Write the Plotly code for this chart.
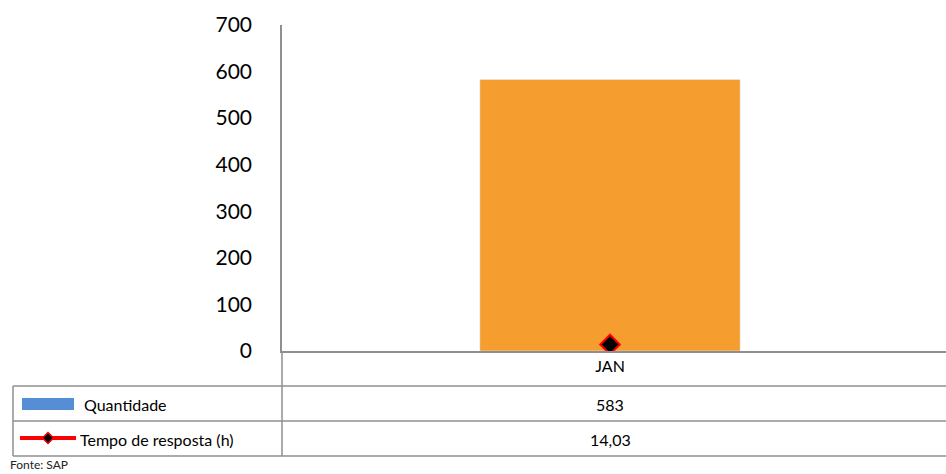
import plotly.graph_objects as go

categories = ["JAN"]
quantidade = [583]
tempo_resposta = [14.03]
y_ticks = [0, 100, 200, 300, 400, 500, 600, 700]
series_names = ["Quantidade", "Tempo de resposta (h)"]
source_text = "Fonte: SAP"

W, H = 946, 474
FONT = "Lato, Open Sans, sans-serif"
GRID = "#8f8f8f"

def px(x):
    return x / W

def py(y):
    return 1 - y / H

fig = go.Figure()
fig.add_trace(go.Bar(x=categories, y=quantidade, marker_color="#F59D2E",
                     width=0.392, name=series_names[0], showlegend=False))
fig.add_trace(go.Scatter(x=categories, y=tempo_resposta, mode="lines+markers",
                         line=dict(color="red", width=4),
                         marker=dict(symbol="diamond", size=15, color="black",
                                     line=dict(color="red", width=2)),
                         name=series_names[1], showlegend=False))

shapes = []
def hline(y, x0, x1):
    shapes.append(dict(type="line", xref="paper", yref="paper", x0=px(x0), x1=px(x1),
                       y0=py(y), y1=py(y), line=dict(color=GRID, width=1.5)))
def vline(x, y0, y1):
    shapes.append(dict(type="line", xref="paper", yref="paper", x0=px(x), x1=px(x),
                       y0=py(y0), y1=py(y1), line=dict(color=GRID, width=1.5)))

for yy in (386, 421, 456):
    hline(yy, 13, 946)
vline(13, 386, 456)
vline(282, 351, 456)

# legend keys inside table
shapes.append(dict(type="rect", xref="paper", yref="paper", x0=px(22), x1=px(74),
                   y0=py(410), y1=py(398), fillcolor="#558ED5", line=dict(width=0)))
shapes.append(dict(type="line", xref="paper", yref="paper", x0=px(20), x1=px(76),
                   y0=py(438), y1=py(438), line=dict(color="red", width=4)))
cx, cy, r = 48, 438, 5.5
path = "M {},{} L {},{} L {},{} L {},{} Z".format(
    px(cx), py(cy - r), px(cx + r), py(cy), px(cx), py(cy + r), px(cx - r), py(cy))
shapes.append(dict(type="path", xref="paper", yref="paper", path=path,
                   fillcolor="black", line=dict(color="red", width=1.5)))

annotations = [
    dict(xref="paper", yref="paper", x=px(82), y=py(404), text=series_names[0],
         showarrow=False, xanchor="left", yanchor="middle",
         font=dict(family=FONT, size=16, color="black")),
    dict(xref="paper", yref="paper", x=px(78), y=py(439), text=series_names[1],
         showarrow=False, xanchor="left", yanchor="middle",
         font=dict(family=FONT, size=16, color="black")),
    dict(xref="x", yref="paper", x=categories[0], y=py(404), text=str(quantidade[0]),
         showarrow=False, xanchor="center", yanchor="middle",
         font=dict(family=FONT, size=16, color="black")),
    dict(xref="x", yref="paper", x=categories[0], y=py(439),
         text=f"{tempo_resposta[0]:.2f}".replace(".", ","),
         showarrow=False, xanchor="center", yanchor="middle",
         font=dict(family=FONT, size=16, color="black")),
    dict(xref="paper", yref="paper", x=px(8), y=0, text=source_text,
         showarrow=False, xanchor="left", yanchor="bottom",
         font=dict(family=FONT, size=12, color="#222")),
]

fig.update_layout(
    width=W, height=H, margin=dict(l=0, r=0, t=0, b=0, autoexpand=False),
    paper_bgcolor="white", plot_bgcolor="white",
    shapes=shapes, annotations=annotations, showlegend=False,
    xaxis=dict(domain=[px(282), 1], range=[-0.494, 0.506], showline=True,
               linecolor=GRID, linewidth=1.5,
               showgrid=False, ticks="", automargin=False,
               tickfont=dict(family=FONT, size=16, color="black"),
               fixedrange=True),
    yaxis=dict(domain=[py(351), py(25)], range=[0, 700], tickvals=y_ticks,
               showline=True, linecolor=GRID, linewidth=1.5, showgrid=False,
               zeroline=False, ticks="", ticklabelstandoff=24, automargin=False,
               tickfont=dict(family=FONT, size=21, color="black")),
)

fig.write_html("out.html", config={"displayModeBar": False},
               post_script="document.body.style.margin='0';document.body.style.overflow='hidden';")
